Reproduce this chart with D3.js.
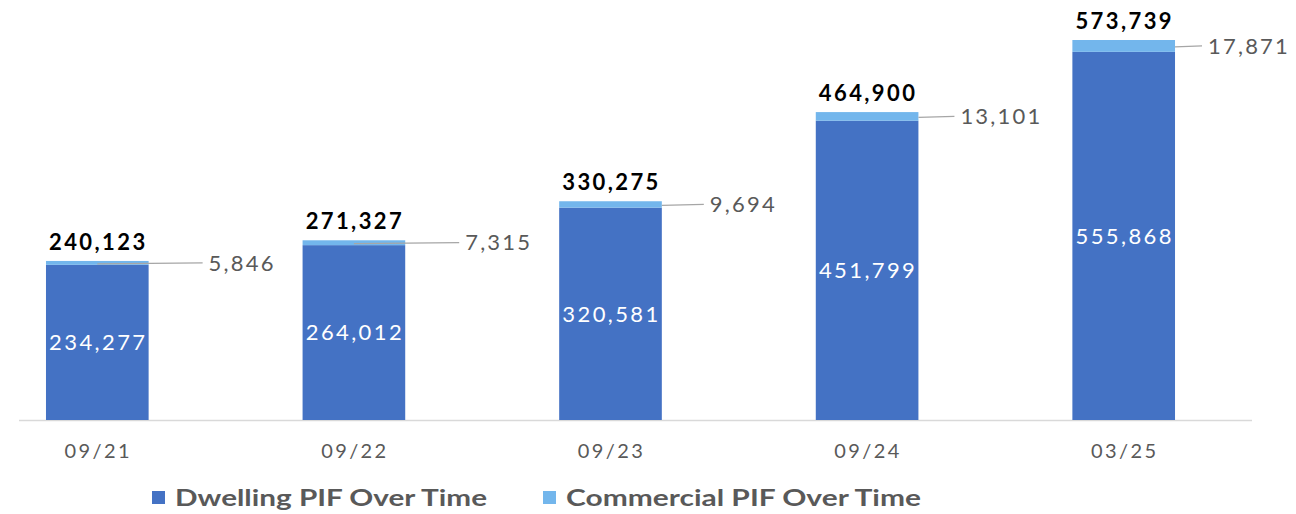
<!DOCTYPE html>
<html><head><meta charset="utf-8">
<script src="https://cdn.jsdelivr.net/npm/d3@7"></script>
<style>body{margin:0;background:#fff}svg{display:block}text{font-family:Lato,"Open Sans",sans-serif}</style>
</head><body><svg id="c" width="1296" height="514"></svg>
<script>
const categories = ["09/21","09/22","09/23","09/24","03/25"];
const dwelling = [234277,264012,320581,451799,555868];
const commercial = [5846,7315,9694,13101,17871];
const totals = [240123,271327,330275,464900,573739];
const seriesNames = ["Dwelling PIF Over Time","Commercial PIF Over Time"];

// layout-only constants
const labelDx = [60,60,48,42,33];
const leaderFromCenter = [true,true,false,false,false];
const colors = ["#4472C4","#73B6EC"];

const svg = d3.select("#c");
const x = d3.scaleBand().domain(categories).range([-31,1252]).paddingInner(0.6).paddingOuter(0.3);
const y = d3.scaleLinear().domain([0,573739]).range([420,40]);
const fmt = d3.format(",");

svg.append("line").attr("x1",19).attr("x2",1252).attr("y1",420.5).attr("y2",420.5).attr("stroke","#d9d9d9").attr("stroke-width",1.5);

const g = svg.append("g");
categories.forEach((c,i)=>{
  const x0 = x(c), w = x.bandwidth();
  g.append("rect").attr("x",x0).attr("width",w).attr("y",y(dwelling[i])).attr("height",y(0)-y(dwelling[i])).attr("fill",colors[0]);
  g.append("rect").attr("x",x0).attr("width",w).attr("y",y(dwelling[i]+commercial[i])).attr("height",y(dwelling[i])-y(dwelling[i]+commercial[i])).attr("fill",colors[1]);
  // dwelling label
  g.append("text").attr("x",x0+w/2+1).attr("y",(y(dwelling[i])+y(0))/2).attr("dy","0.35em").attr("text-anchor","middle")
    .attr("fill","#fff").attr("font-size",22).attr("letter-spacing",2.4).text(fmt(dwelling[i]));
  // total label
  g.append("text").attr("x",x0+w/2+1).attr("y",y(totals[i])-11).attr("text-anchor","middle")
    .attr("fill","#000").attr("font-weight","bold").attr("font-size",22).attr("letter-spacing",2.4).text(fmt(totals[i]));
  // commercial label + leader
  const ym = (y(dwelling[i])+y(dwelling[i]+commercial[i]))/2;
  const lx = x0+w+labelDx[i];
  g.append("line").attr("x1",leaderFromCenter[i]?x0+w/2:x0+w).attr("x2",lx-6).attr("y1",ym+1).attr("y2",ym)
    .attr("stroke","#a6a6a6").attr("stroke-width",1.2);
  g.append("text").attr("x",lx).attr("y",ym).attr("dy","0.35em").attr("fill","#595959").attr("font-size",22).attr("letter-spacing",2.2).text(fmt(commercial[i]));
  // x tick label
  g.append("text").attr("x",x0+w/2+1).attr("y",451).attr("dy","0.35em").attr("text-anchor","middle")
    .attr("fill","#595959").attr("font-size",20).attr("letter-spacing",2.4).text(c);
});

// legend
const leg = [{x:152,tx:175,w:312},{x:543,tx:566,w:355}];
seriesNames.forEach((n,i)=>{
  svg.append("rect").attr("x",leg[i].x).attr("y",491).attr("width",13).attr("height",13).attr("fill",colors[i]);
  svg.append("text").attr("x",leg[i].tx).attr("y",498).attr("dy","0.35em").attr("fill","#595959")
    .attr("font-weight","bold").attr("font-size",23).attr("textLength",leg[i].w).attr("lengthAdjust","spacingAndGlyphs").text(n);
});
</script></body></html>
